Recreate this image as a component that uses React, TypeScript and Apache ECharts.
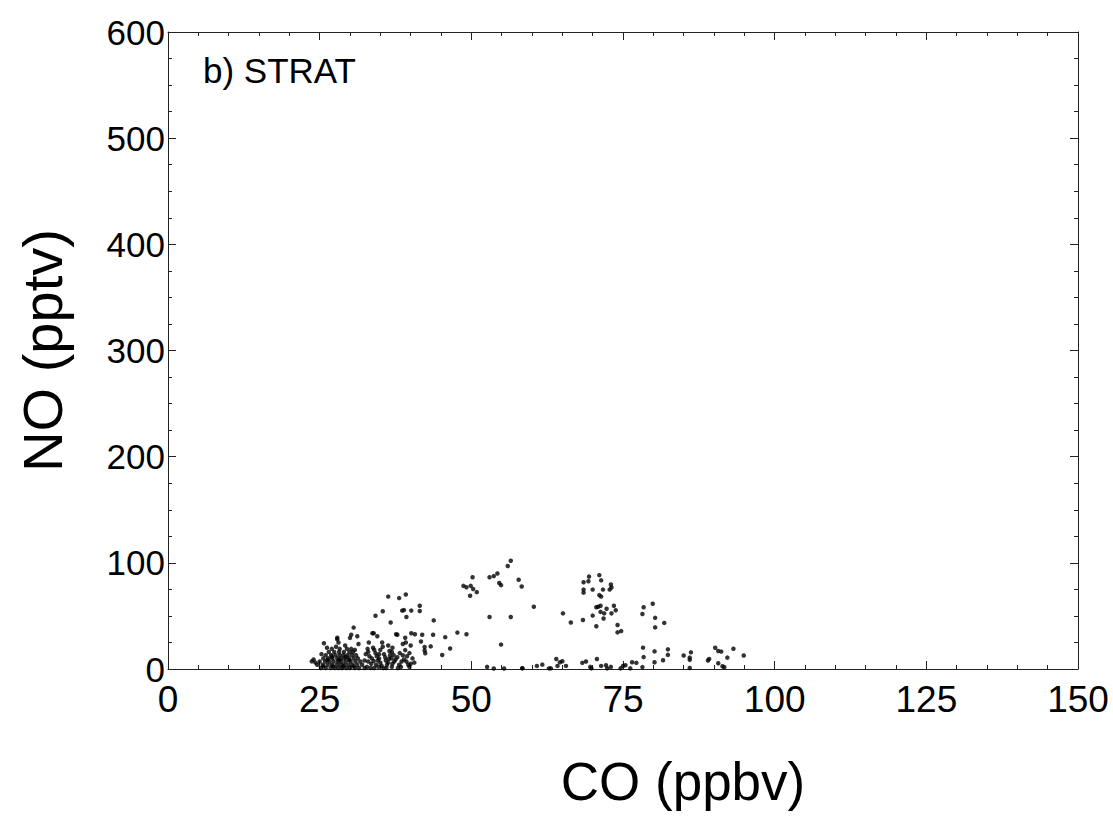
import React, { useEffect, useRef } from "react";
import * as echarts from "echarts";

const FONT = "'Liberation Sans', Arial, Helvetica, sans-serif";

const xAxisTitle = "CO (ppbv)";
const yAxisTitle = "NO (pptv)";
const panelLabel = "b) STRAT";

// dense cluster of low-CO stratospheric points (CO ppbv, NO pptv)
const coreCluster: [number, number][] = [
  [25.2, 1], [26.0, 1], [26.8, 1], [27.5, 1], [28.1, 1], [28.7, 1], [29.4, 1], [30.0, 1], [30.8, 1], [31.5, 1], [32.4, 1],
  [24.6, 4], [25.5, 4], [26.3, 4], [27.0, 4], [27.8, 4], [28.4, 4], [29.0, 4], [29.7, 4], [30.4, 4], [31.2, 4], [32.0, 4],
  [25.0, 7], [25.9, 7], [26.6, 7], [27.3, 7], [28.0, 7], [28.6, 7], [29.3, 7], [30.1, 7], [30.9, 7], [31.7, 7],
  [25.6, 10], [26.4, 10], [27.1, 10], [27.9, 10], [28.5, 10], [29.1, 10], [29.8, 10], [30.6, 10], [31.3, 10],
  [26.0, 13], [26.9, 13], [27.6, 13], [28.3, 13], [28.9, 13], [29.6, 13], [30.3, 13], [31.0, 13],
  [26.5, 16], [27.4, 16], [28.2, 16], [29.0, 16], [29.9, 16], [30.5, 16],
  [27.0, 19], [28.3, 19], [29.5, 19], [30.2, 19],
  [24.3, 6], [24.0, 9], [23.7, 7.2], [25.3, 14], [26.2, 20], [27.7, 21], [29.2, 22.2], [25.7, 24.2],
  [28.1, 25], [27.9, 29.4], [30.2, 32.2], [31.4, 23.6], [30.8, 18],
  [25.6, 2.5], [27.2, 2.5], [28.9, 2.5], [30.6, 2.5], [26.3, 8.5], [28.2, 8.5], [29.9, 8.5], [27.0, 11.5], [29.3, 11.5],
];

const clusterEdge: [number, number][] = [
  [32.8, 2], [33.5, 5], [34.0, 1], [34.6, 8], [35.2, 3], [35.8, 11], [36.3, 6], [36.9, 2], [37.5, 9], [38.1, 4],
  [38.7, 13], [39.3, 7], [39.8, 2], [40.3, 10], [33.2, 12], [34.2, 15], [35.0, 18], [35.6, 14], [36.5, 17], [37.2, 13],
  [33.8, 20], [35.3, 25], [36.3, 22.2], [33.1, 25], [33.9, 33.7], [34.5, 30.8], [37.6, 32.8], [39.1, 29.4], [40.1, 33.7],
  [38.7, 23.6], [39.1, 17.8], [32.4, 8], [33.0, 16], [34.8, 10], [36.0, 1], [37.9, 1], [38.5, 7], [39.6, 4], [40.6, 6],
  [35.9, 8], [37.0, 5], [34.3, 4], [32.9, 19], [36.8, 10],
  [33.0, 7], [33.6, 10], [34.4, 12], [35.0, 6], [35.5, 1], [36.1, 4], [36.6, 13], [37.3, 7], [37.8, 11], [38.4, 2],
  [38.9, 9], [39.4, 12], [40.0, 5], [33.4, 1], [34.7, 2], [36.9, 16], [38.2, 15], [39.8, 15], [32.6, 14], [34.0, 18],
  [35.4, 21], [37.0, 20], [34.8, 14], [33.9, 7.5], [36.4, 9.5],
];

const midScatter: [number, number][] = [
  [56.5, 102], [56.0, 97], [57.8, 84], [58.3, 77.7], [53.0, 86.4], [53.7, 87.5], [54.3, 90], [54.6, 81], [54.9, 79],
  [50.2, 86.4], [48.7, 78.3], [49.2, 77], [49.9, 78.3], [50.3, 75.4], [49.8, 69], [50.9, 72.4], [53, 49], [56.5, 49],
  [54.9, 23], [36.3, 68.2], [38.1, 66.8], [39.2, 70.2], [41.5, 59.6], [41.5, 54.7], [38.6, 55], [38.9, 55.5], [40.1, 55],
  [39.3, 49], [35.4, 54.4], [34.2, 50.1], [36.7, 43.8], [43.8, 45.8], [30.6, 39], [33.7, 33.7], [37.8, 32.2], [40.7, 32.8],
  [41.9, 32.2], [43.7, 32.2], [45.7, 30], [47.7, 34.3], [49.2, 32.8], [45.2, 13.2], [46.5, 19.3], [41.7, 25.9],
  [42.3, 20.7], [42.3, 17.5], [42.4, 14.9], [43.3, 21.3], [40, 22.2], [39.2, 25], [30, 29.3], [31.2, 30.8], [27.9, 28],
  [52.6, 2], [53.7, 0.5], [55.4, 0.5], [58.4, 0.8], [60.3, 58.7],
];

const upperScatter: [number, number][] = [
  [65.1, 52.4], [66.4, 43.8], [68.4, 46.1], [68.5, 81.7], [69.4, 87], [69.3, 82.6], [68.5, 74.8], [68.5, 71.9], [70, 74.8],
  [71.1, 88.4], [71.4, 83.5], [71.7, 74.8], [71.1, 69.6], [71.4, 68.2], [73.0, 79.6], [72.8, 74.8], [73.1, 76.8],
  [70.9, 58.7], [71.3, 59.6], [70.6, 58.1], [70, 50.3], [71.3, 53.8], [71.9, 52.4], [72.3, 56.7], [73.1, 52.4],
  [73.5, 59.6], [73.8, 55.3], [71.8, 47.6], [70.6, 40.2], [74.1, 41.4], [74.1, 34.5], [74.7, 35.7], [78.2, 51.8],
  [78.4, 58.1], [79.9, 61.5], [80.3, 48.2], [80.3, 39.2], [81.8, 43.4],
];

const lowRight: [number, number][] = [
  [78.3, 20.1], [78.4, 11.2], [80.2, 16.6], [80.2, 6.3], [81.6, 8.3], [82.4, 18.5], [82.4, 13.3], [78.2, 1.8],
  [85.0, 12.7], [86, 10.7], [86, 8.6], [86.2, 15.7], [86, 1], [89, 8], [89.2, 9.5], [90.2, 20], [91.2, 16.4],
  [90.7, 17], [90.7, 5.4], [91.4, 2.6], [91.7, 1.7], [92.2, 10.7], [93.2, 19.1], [94.9, 12.7],
];

const bottomRow: [number, number][] = [
  [58.4, 0.6], [60.8, 2.9], [61.7, 4.1], [62.8, 0.6], [63.1, 0.6], [64.0, 9.4], [64.2, 2.9], [64.6, 6.4], [65.0, 7.3],
  [65.6, 2.9], [68.3, 5.8], [68.9, 7.0], [69.6, 2.0], [69.8, 0.6], [70.7, 9.4], [71.4, 2.9], [72.2, 3.5], [72.4, 0.6],
  [73.0, 2.0], [74.6, 0.6], [75.0, 2.9], [75.4, 3.5], [76.2, 0.6], [76.5, 6.4], [77.2, 5.8],
];

const xRange = { min: 0, max: 150, interval: 25 };
const yRange = { min: 0, max: 600, interval: 100 };

export default function App() {
  const ref = useRef<HTMLDivElement>(null);
  useEffect(() => {
    if (!ref.current) return;
    const chart = echarts.init(ref.current, null, { renderer: "svg" });
    const lineStyle = { color: "#222", width: 1 };
    const common = {
      type: "value" as const,
      axisLine: { show: true, onZero: false, lineStyle },
      splitLine: { show: false },
      minorSplitLine: { show: false },
    };
    const allPoints = [
      ...coreCluster,
      ...clusterEdge,
      ...midScatter,
      ...upperScatter,
      ...lowRight,
      ...bottomRow,
    ];
    chart.setOption({
      animation: false,
      backgroundColor: "#fff",
      grid: { left: 168, right: 35, top: 32, bottom: 166, containLabel: false },
      graphic: [
        {
          type: "text",
          left: 203,
          top: 53,
          style: { text: panelLabel, fontSize: 35, fontFamily: FONT, fill: "#000" },
        },
      ],
      xAxis: [
        {
          ...common,
          ...xRange,
          position: "bottom",
          name: xAxisTitle,
          nameLocation: "middle",
          nameGap: 86,
          nameTextStyle: { fontSize: 53, fontFamily: FONT, color: "#000", padding: [0, 0, 0, 120] },
          axisTick: { show: true, inside: true, length: 8, lineStyle },
          minorTick: { show: true, splitNumber: 5, length: 4, lineStyle },
          axisLabel: { show: true, fontSize: 37, fontFamily: FONT, color: "#000", margin: 12 },
        },
        {
          ...common,
          ...xRange,
          position: "top",
          axisTick: { show: true, inside: true, length: 8, lineStyle },
          minorTick: { show: true, splitNumber: 5, length: 4, lineStyle },
          axisLabel: { show: false },
        },
      ],
      yAxis: [
        {
          ...common,
          ...yRange,
          position: "left",
          name: yAxisTitle,
          nameLocation: "middle",
          nameGap: 98,
          nameTextStyle: { fontSize: 56, fontFamily: FONT, color: "#000" },
          axisTick: { show: true, inside: true, length: 8, lineStyle },
          minorTick: { show: true, splitNumber: 4, length: 4, lineStyle },
          axisLabel: { show: true, fontSize: 35, fontFamily: FONT, color: "#000", margin: 3 },
        },
        {
          ...common,
          ...yRange,
          position: "right",
          axisTick: { show: true, inside: true, length: 8, lineStyle },
          minorTick: { show: true, splitNumber: 4, length: 4, lineStyle },
          axisLabel: { show: false },
        },
      ],
      series: [
        {
          type: "scatter",
          xAxisIndex: 0,
          yAxisIndex: 0,
          data: allPoints,
          symbol: "circle",
          symbolSize: 4.5,
          itemStyle: { color: "#000" },
        },
      ],
    });
    return () => chart.dispose();
  }, []);
  return (
    <div
      ref={ref}
      style={{ position: "fixed", left: 0, top: 0, width: 1113, height: 835, background: "#fff" }}
    />
  );
}
